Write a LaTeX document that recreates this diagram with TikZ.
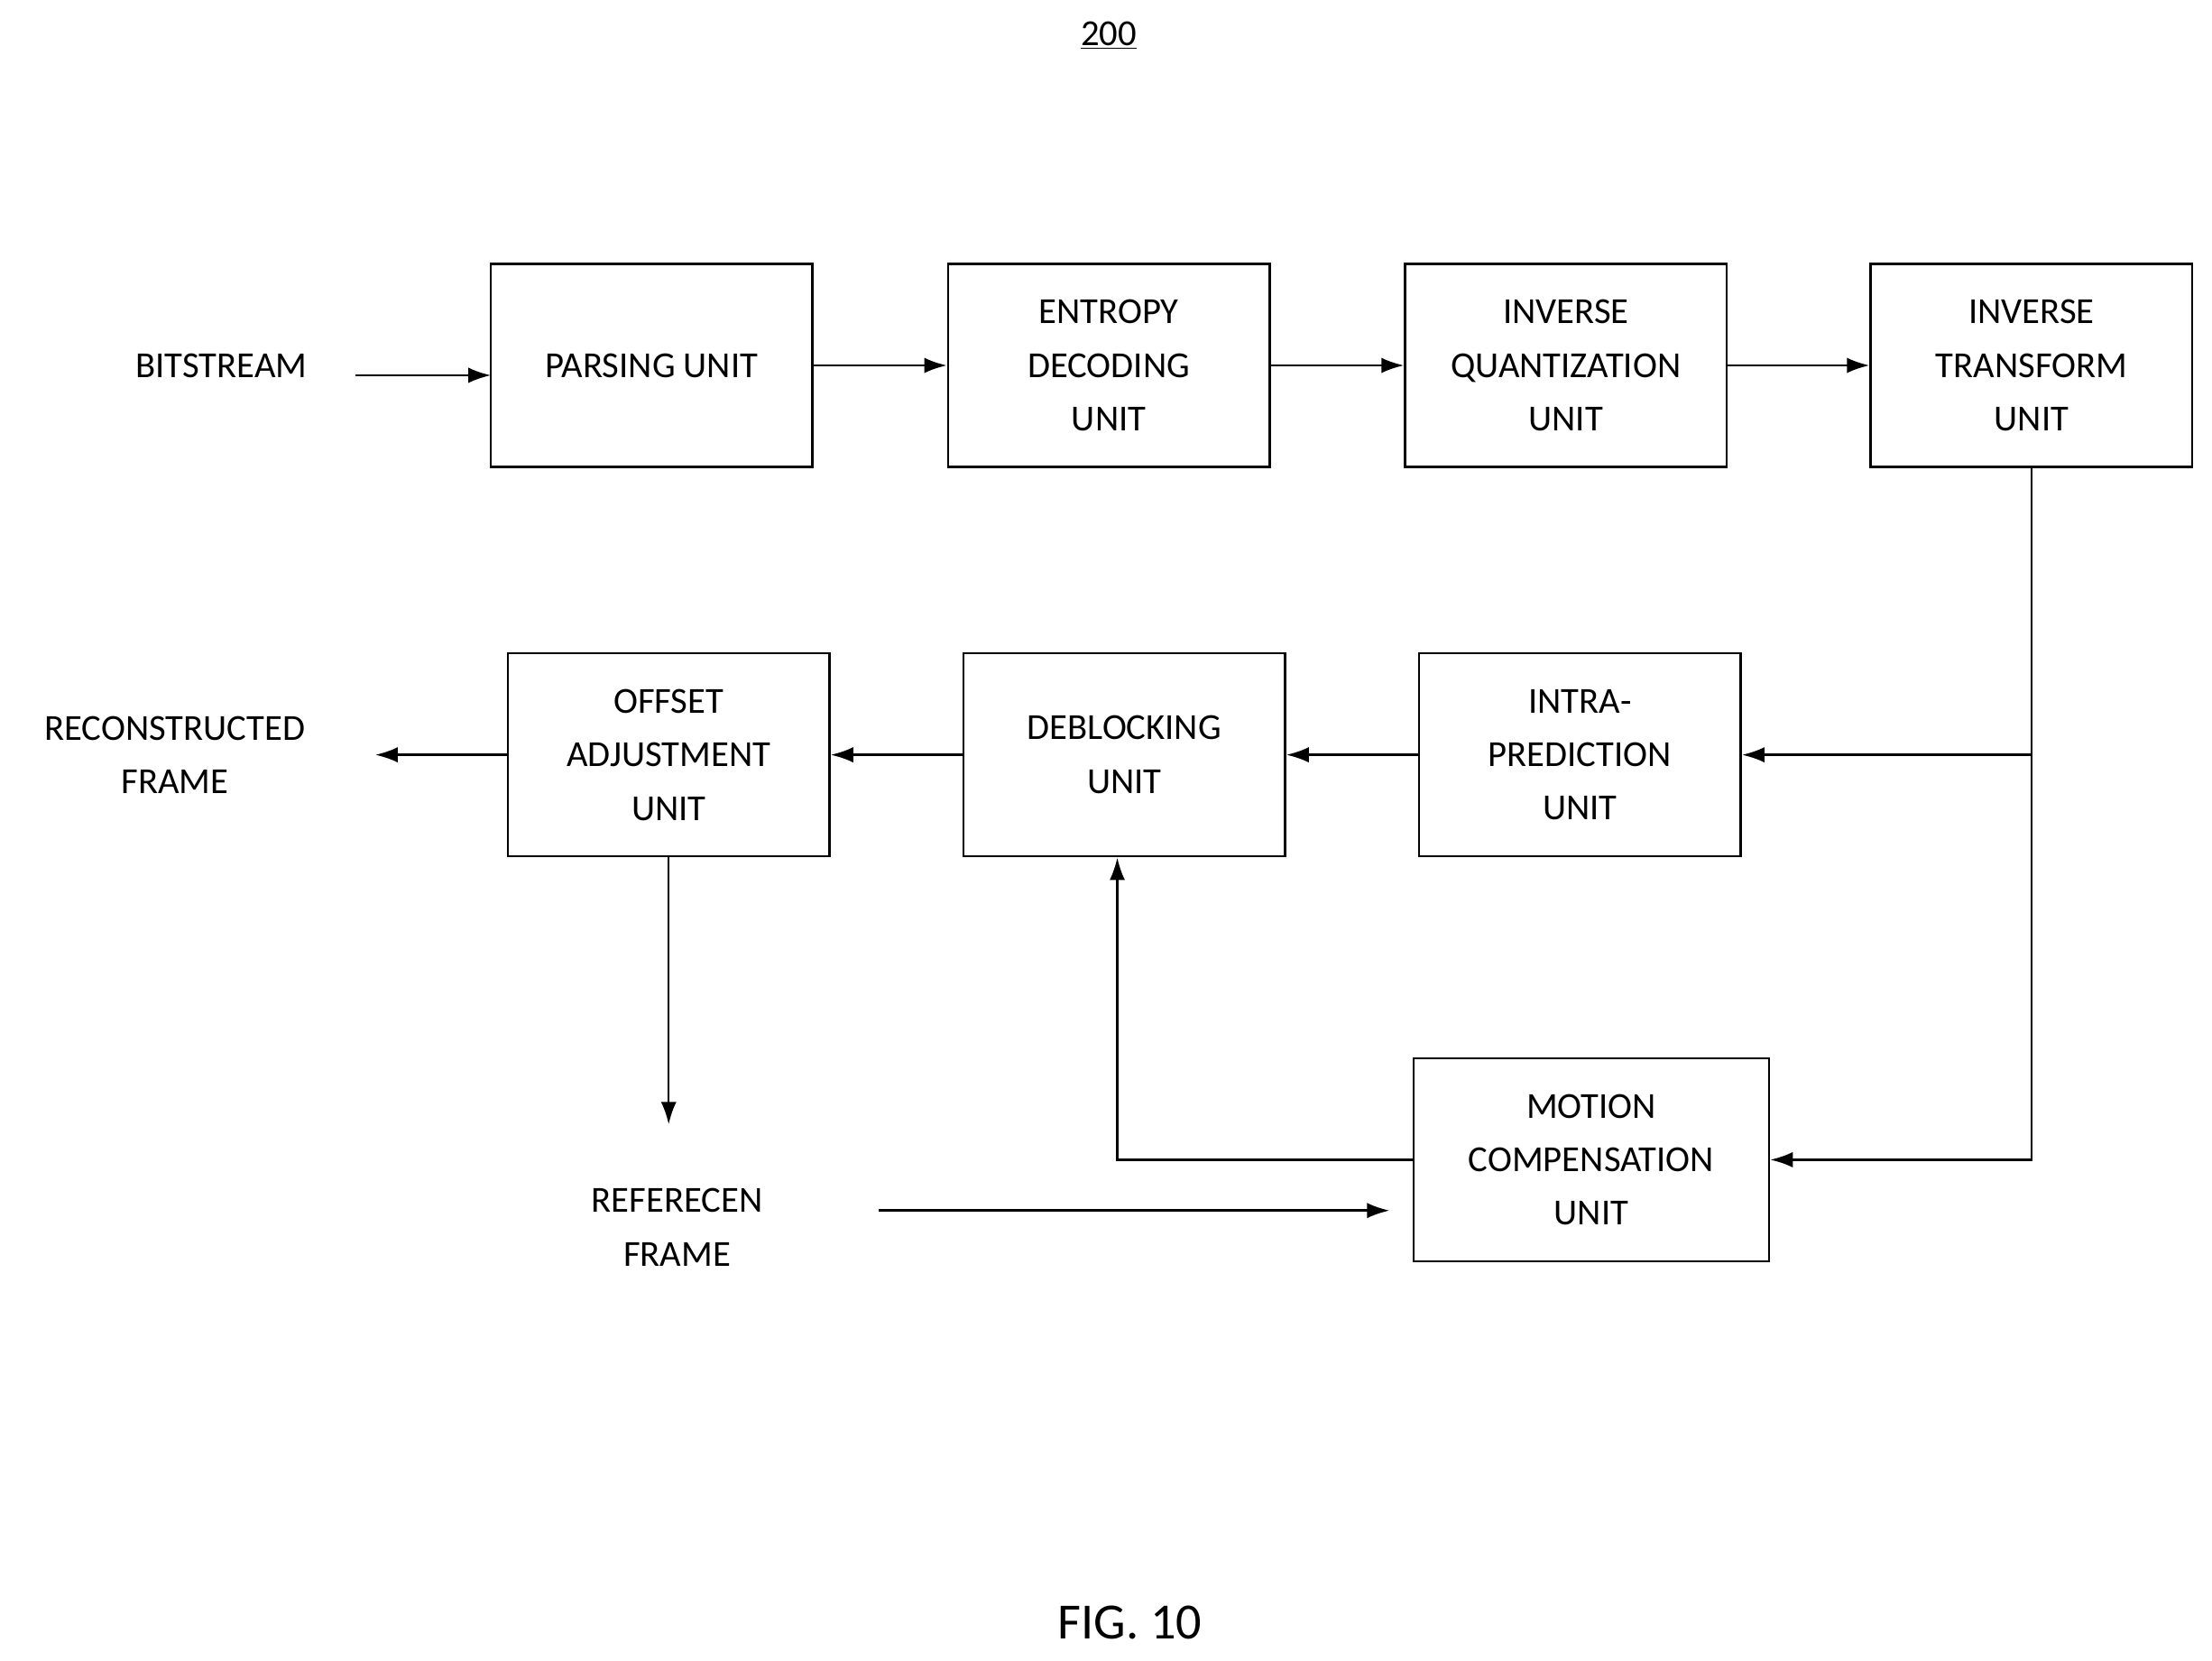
\documentclass[tikz,border=0pt]{standalone}
\usepackage{fontspec}
\setmainfont{Carlito}
\usetikzlibrary{arrows.meta}
\begin{document}
\begin{tikzpicture}[x=1pt,y=-1pt,
  box/.style={draw,line width=1.6pt,minimum width=228pt,minimum height=144pt,align=center,inner sep=0pt},
  lbl/.style={align=center,inner sep=0pt},
  arr/.style={line width=1.6pt,-{Latex[length=16pt,width=11pt]}},
  ln/.style={line width=1.6pt},
  every node/.style={font=\fontsize{26}{38}\selectfont}]
\useasboundingbox (0,0) rectangle (1568,1177);
\node[lbl] (t200) at (786,25) {\underline{200}};
\node[lbl] (fig) at (801,1150) {\fontsize{36}{40}\selectfont FIG. 10};
\node[box] (pars) at (462,259) {PARSING UNIT};
\node[box] (ent) at (786,259) {ENTROPY\\DECODING\\UNIT};
\node[box] (iq) at (1110,259) {INVERSE\\QUANTIZATION\\UNIT};
\node[box] (it) at (1440,259) {INVERSE\\TRANSFORM\\UNIT};
\node[box] (off) at (474,535) {OFFSET\\ADJUSTMENT\\UNIT};
\node[box] (deb) at (797,535) {DEBLOCKING\\UNIT};
\node[box] (intra) at (1120,535) {INTRA-\\PREDICTION\\UNIT};
\node[box,minimum width=252pt] (mc) at (1128,822) {MOTION\\COMPENSATION\\UNIT};
\node[lbl] (bs) at (157,259) {BITSTREAM};
\node[lbl] (rec) at (124,535) {RECONSTRUCTED\\FRAME};
\node[lbl] (ref) at (480,870) {REFERECEN\\FRAME};
\coordinate (bs1) at (252,266);
\coordinate (bs2) at (348,266);
\coordinate (recE) at (266,535);
\coordinate (refN) at (474,797);
\coordinate (refE) at (623,858);
\coordinate (mcW) at (985,858);
\coordinate (br) at (1440,535);
\coordinate (cr) at (1440,822);
\coordinate (lc) at (792,822);
\draw[arr] (bs1) -- (bs2);
\draw[arr] (pars) -- (ent);
\draw[arr] (ent) -- (iq);
\draw[arr] (iq) -- (it);
\draw[ln] (it.south) -- (br);
\draw[arr] (br) -- (cr) -- (mc.east);
\draw[arr] (br) -- (intra.east);
\draw[arr] (intra) -- (deb);
\draw[arr] (deb) -- (off);
\draw[arr] (off) -- (recE);
\draw[arr] (off.south) -- (refN);
\draw[arr] (refE) -- (mcW);
\draw[arr] (mc.west) -- (lc) -- (lc|-deb.south);
\end{tikzpicture}
\end{document}
